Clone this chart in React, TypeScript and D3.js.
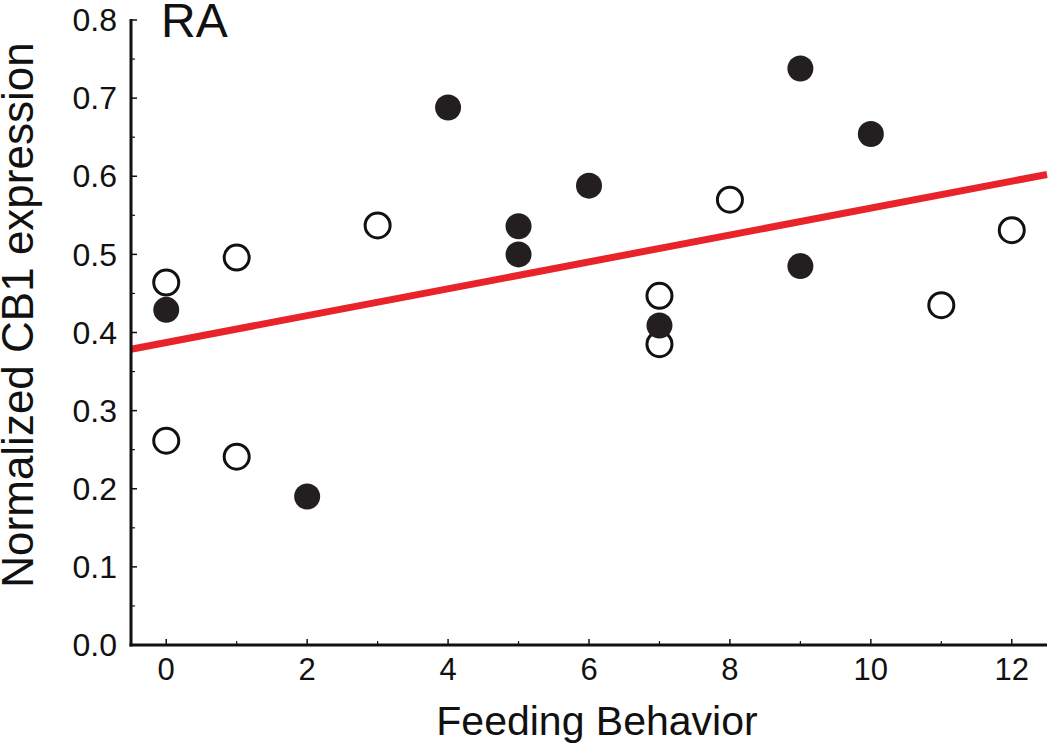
import React from "react";
import * as d3 from "d3";

const openX = [0, 0, 1, 1, 3, 7, 7, 8, 11, 12];
const openY = [0.464, 0.2615, 0.496, 0.241, 0.537, 0.447, 0.385, 0.57, 0.435, 0.531];
const filledX = [0, 2, 4, 5, 5, 6, 7, 9, 9, 10];
const filledY = [0.429, 0.19, 0.688, 0.5, 0.536, 0.588, 0.409, 0.738, 0.485, 0.654];
const xMajorTicks = [0, 2, 4, 6, 8, 10, 12];
const xMinorTicks = [1, 3, 5, 7, 9, 11];
const yMajorTicks = [0, 0.1, 0.2, 0.3, 0.4, 0.5, 0.6, 0.7, 0.8];
const yMinorTicks = [0.05, 0.15, 0.25, 0.35, 0.45, 0.55, 0.65, 0.75];

const W = 1050;
const H = 746;
const FONT = "'Liberation Sans', Arial, Helvetica, sans-serif";

export default function App() {
  const x = d3.scaleLinear().domain([-0.5, 12.5]).range([131, 1047]);
  const y = d3.scaleLinear().domain([0, 0.8]).range([645, 20]);

  const allX = [...openX, ...filledX];
  const allY = [...openY, ...filledY];
  const mx = d3.mean(allX) as number;
  const my = d3.mean(allY) as number;
  let sxy = 0;
  let sxx = 0;
  allX.forEach((v, i) => {
    sxy += (v - mx) * (allY[i] - my);
    sxx += (v - mx) * (v - mx);
  });
  const slope = sxy / sxx;
  const intercept = my - slope * mx;
  const [x0, x1] = x.domain();
  const line = d3
    .line<number>()
    .x((d) => x(d))
    .y((d) => y(intercept + slope * d));

  return (
    <svg
      width={W}
      height={H}
      style={{ position: "absolute", left: 0, top: 0, background: "#fff" }}
      fontFamily={FONT}
    >
      {/* regression line */}
      <path d={line([x0, x1]) || ""} stroke="#e8242a" strokeWidth={7} fill="none" />

      {/* axes */}
      <line x1={x.range()[0]} x2={x.range()[0]} y1={y(0.8) - 1} y2={y(0) + 1.5} stroke="#111" strokeWidth={3} />
      <line x1={x.range()[0] - 1.5} x2={x.range()[1]} y1={y(0)} y2={y(0)} stroke="#111" strokeWidth={3} />

      {yMajorTicks.map((t) => (
        <g key={"ym" + t}>
          <line x1={131} x2={137} y1={y(t)} y2={y(t)} stroke="#111" strokeWidth={1.5} />
          <text x={117} y={y(t)} dy="0.35em" textAnchor="end" fontSize={32} fill="#111">
            {t.toFixed(1)}
          </text>
        </g>
      ))}
      {yMinorTicks.map((t) => (
        <line key={"yn" + t} x1={131} x2={135} y1={y(t)} y2={y(t)} stroke="#111" strokeWidth={1.2} />
      ))}
      {xMajorTicks.map((t) => (
        <g key={"xm" + t}>
          <line x1={x(t)} x2={x(t)} y1={645} y2={639} stroke="#111" strokeWidth={1.5} />
          <text x={x(t)} y={680} textAnchor="middle" fontSize={31} fill="#111">
            {t}
          </text>
        </g>
      ))}
      {xMinorTicks.map((t) => (
        <line key={"xn" + t} x1={x(t)} x2={x(t)} y1={645} y2={641} stroke="#111" strokeWidth={1.2} />
      ))}

      {/* points */}
      {openX.map((v, i) => (
        <circle key={"o" + i} cx={x(v)} cy={y(openY[i])} r={12.5} fill="#fff" stroke="#111" strokeWidth={3} />
      ))}
      {filledX.map((v, i) => (
        <circle key={"f" + i} cx={x(v)} cy={y(filledY[i])} r={13} fill="#231f20" />
      ))}

      {/* labels */}
      <text x={597} y={735} textAnchor="middle" fontSize={41} fill="#111">
        Feeding Behavior
      </text>
      <text
        transform={`translate(33, 315) rotate(-90)`}
        textAnchor="middle"
        fontSize={44}
        fill="#111"
      >
        Normalized CB1 expression
      </text>
      <text x={161} y={37} fontSize={48} fill="#111">
        RA
      </text>
    </svg>
  );
}
